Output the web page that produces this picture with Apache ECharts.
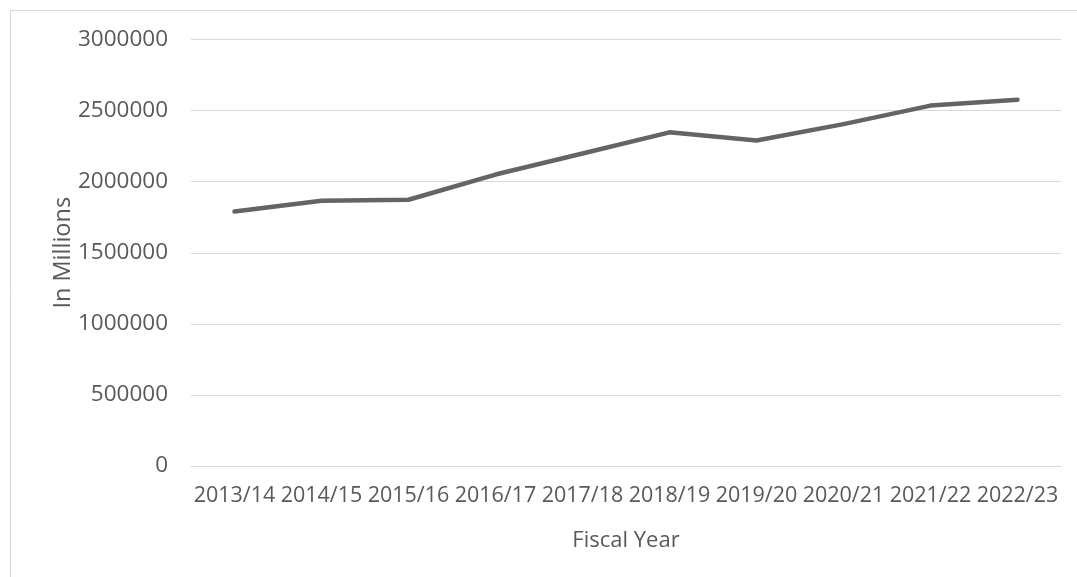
<!DOCTYPE html>
<html>
<head>
<meta charset="utf-8">
<script src="https://cdn.jsdelivr.net/npm/echarts@6/dist/echarts.min.js"></script>
<style>
  html, body { margin: 0; padding: 0; background: #fff; }
  #chart { width: 1077px; height: 577px; }
</style>
</head>
<body>
<div id="chart"></div>
<script>
'use strict';

// fiscal years on the x axis
var years = ['2013/14', '2014/15', '2015/16', '2016/17', '2017/18',
             '2018/19', '2019/20', '2020/21', '2021/22', '2022/23'];
// values (in millions)
var totals = [1790000, 1866000, 1873000, 2050000, 2198000,
              2347000, 2289000, 2405000, 2535000, 2577000];

var yTicks = { min: 0, max: 3000000, step: 500000 };

var textColor = '#595959';
var gridColor = '#d9d9d9';

var chart = echarts.init(document.getElementById('chart'));

chart.setOption({
    animation: false,
    backgroundColor: '#fff',
    grid: { left: 191, right: 16, top: 39.5, bottom: 111 },
    graphic: [{
        type: 'rect',
        shape: { x: 10.5, y: 10.5, width: 1200, height: 700 },
        style: { fill: 'none', stroke: gridColor, lineWidth: 1 },
        silent: true
    }],
    xAxis: {
        type: 'category',
        data: years,
        boundaryGap: true,
        name: 'Fiscal Year',
        nameLocation: 'middle',
        nameGap: 64,
        nameMoveOverlap: false,
        nameTextStyle: { fontFamily: 'Open Sans', fontSize: 22, color: textColor },
        axisLine: { show: true, lineStyle: { color: gridColor, width: 1 } },
        axisTick: { show: false },
        axisLabel: {
            interval: 0,
            hideOverlap: false,
            margin: 19,
            color: textColor,
            fontSize: 21.5,
            fontFamily: 'Open Sans'
        },
        splitLine: { show: false }
    },
    yAxis: {
        type: 'value',
        min: yTicks.min,
        max: yTicks.max,
        interval: yTicks.step,
        name: 'In Millions',
        nameLocation: 'middle',
        nameGap: 116,
        nameMoveOverlap: false,
        nameTextStyle: { fontFamily: 'Open Sans', fontSize: 23.5, color: textColor },
        axisLine: { show: false },
        axisTick: { show: false },
        axisLabel: {
            margin: 23,
            color: textColor,
            fontSize: 22.5,
            fontFamily: 'Open Sans',
            formatter: function (v) { return String(v); }
        },
        splitLine: { lineStyle: { color: gridColor, width: 1 } }
    },
    series: [{
        name: 'Total',
        type: 'line',
        data: totals,
        symbol: 'none',
        lineStyle: { color: '#646464', width: 4.5, cap: 'round', join: 'round' }
    }]
});
</script>
</body>
</html>
